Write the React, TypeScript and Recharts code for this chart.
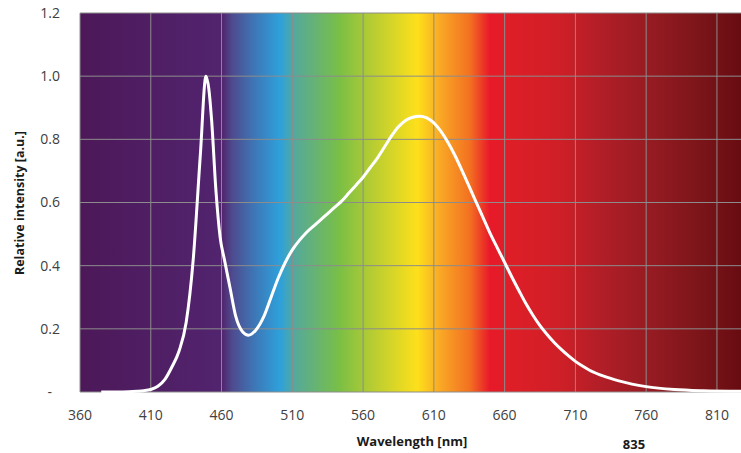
import React from 'react';
import { LineChart, Line, XAxis, YAxis, CartesianGrid } from 'recharts';

const wavelengths = [375, 390, 400, 405, 410, 415, 420, 425, 430, 435, 440, 445, 449, 451, 453, 456, 459, 462, 466, 470, 475, 479, 484, 490, 495, 500, 505, 510, 515, 520, 525, 530, 535, 540, 545, 550, 555, 560, 565, 570, 575, 580, 585, 590, 595, 600, 605, 610, 615, 620, 625, 630, 635, 640, 645, 650, 655, 660, 665, 670, 675, 680, 685, 690, 695, 700, 705, 710, 715, 720, 730, 740, 750, 760, 780, 800, 827];
const intensity = [0, 0, 0.002, 0.004, 0.008, 0.018, 0.04, 0.08, 0.13, 0.22, 0.42, 0.75, 1.0, 0.96, 0.86, 0.64, 0.49, 0.42, 0.33, 0.24, 0.19, 0.18, 0.195, 0.24, 0.3, 0.36, 0.41, 0.45, 0.48, 0.505, 0.525, 0.545, 0.565, 0.585, 0.605, 0.63, 0.655, 0.68, 0.71, 0.74, 0.775, 0.81, 0.84, 0.86, 0.87, 0.873, 0.868, 0.852, 0.825, 0.79, 0.748, 0.7, 0.65, 0.6, 0.55, 0.5, 0.455, 0.41, 0.365, 0.322, 0.28, 0.243, 0.21, 0.182, 0.157, 0.135, 0.115, 0.097, 0.082, 0.069, 0.05, 0.036, 0.025, 0.017, 0.008, 0.004, 0.002];

const xTicks = [360, 410, 460, 510, 560, 610, 660, 710, 760, 810];
const yTicks = [0, 0.2, 0.4, 0.6, 0.8, 1.0, 1.2];

const xTitle = 'Wavelength [nm]';
const yTitle = 'Relative intensity [a.u.]';
const note = '835';

const spectrumStops: [number, string][] = [
  [0, '#4c1858'],
  [0.215, '#52246f'],
  [0.23, '#4e4a8e'],
  [0.265, '#3d78b8'],
  [0.303, '#2ea1db'],
  [0.325, '#55a99a'],
  [0.393, '#7abf45'],
  [0.44, '#b4cc33'],
  [0.51, '#fde01b'],
  [0.545, '#f9a825'],
  [0.59, '#f37021'],
  [0.62, '#e8192a'],
  [0.643, '#e01e27'],
  [0.726, '#cf1f27'],
  [0.787, '#b21e27'],
  [0.862, '#961b22'],
  [0.938, '#7b1519'],
  [1, '#680c12'],
];

const data = wavelengths.map((w, i) => ({ w, v: intensity[i] }));

const FONT = '"Open Sans", "Liberation Sans", sans-serif';

const YTick = (props: any) => {
  const { x, y, payload } = props;
  const isZero = payload.value === 0;
  return (
    <text x={isZero ? x - 8 : x} y={y} dy="0.35em" textAnchor="end" fill="#404040" fontSize={14} fontFamily={FONT}>
      {isZero ? '-' : payload.value.toFixed(1)}
    </text>
  );
};

const XTick = (props: any) => {
  const { x, y, payload } = props;
  return (
    <text x={x} y={y} dy="0.71em" textAnchor="middle" fill="#404040" fontSize={14} fontFamily={FONT}>
      {payload.value}
    </text>
  );
};

export default function App() {
  return (
    <div style={{ position: 'absolute', left: 0, top: 0, width: 741, height: 453, background: '#fff', overflow: 'hidden' }}>
      <LineChart width={741} height={453} data={data} margin={{ top: 13, right: 0, bottom: 0, left: 0 }}>
        <defs>
          <linearGradient id="spec" x1="0" y1="0" x2="1" y2="0">
            {spectrumStops.map(([o, c], i) => (
              <stop key={i} offset={o} stopColor={c} />
            ))}
          </linearGradient>
        </defs>
        <CartesianGrid fill="url(#spec)" fillOpacity={1} stroke="#8c8c8c" strokeWidth={1} horizontalValues={yTicks} verticalValues={xTicks} />
        <XAxis
          dataKey="w"
          type="number"
          domain={[360, 827]}
          ticks={xTicks}
          allowDataOverflow
          height={61}
          axisLine={false}
          tickLine={false}
          tickSize={0}
          tickMargin={18}
          tick={<XTick />}
          interval={0}
        />
        <YAxis
          type="number"
          domain={[0, 1.2]}
          ticks={yTicks}
          width={80}
          axisLine={false}
          tickLine={false}
          tickSize={0}
          tickMargin={20}
          tick={<YTick />}
          interval={0}
        />
        <Line dataKey="v" type="monotone" stroke="#ffffff" strokeWidth={3} dot={false} isAnimationActive={false} />
      </LineChart>
      <div style={{ position: 'absolute', left: 412, top: 441, transform: 'translate(-50%, -50%)', fontFamily: FONT, fontWeight: 700, fontSize: 13, lineHeight: 1, color: '#1a1a1a', whiteSpace: 'nowrap' }}>
        {xTitle}
      </div>
      <div style={{ position: 'absolute', left: 634, top: 444, transform: 'translate(-50%, -50%)', fontFamily: FONT, fontWeight: 700, fontSize: 13, lineHeight: 1, color: '#1a1a1a', whiteSpace: 'nowrap' }}>
        {note}
      </div>
      <div style={{ position: 'absolute', left: 20, top: 203, transform: 'translate(-50%, -50%) rotate(-90deg)', fontFamily: FONT, fontWeight: 700, fontSize: 12.5, lineHeight: 1, color: '#1a1a1a', whiteSpace: 'nowrap' }}>
        {yTitle}
      </div>
    </div>
  );
}
